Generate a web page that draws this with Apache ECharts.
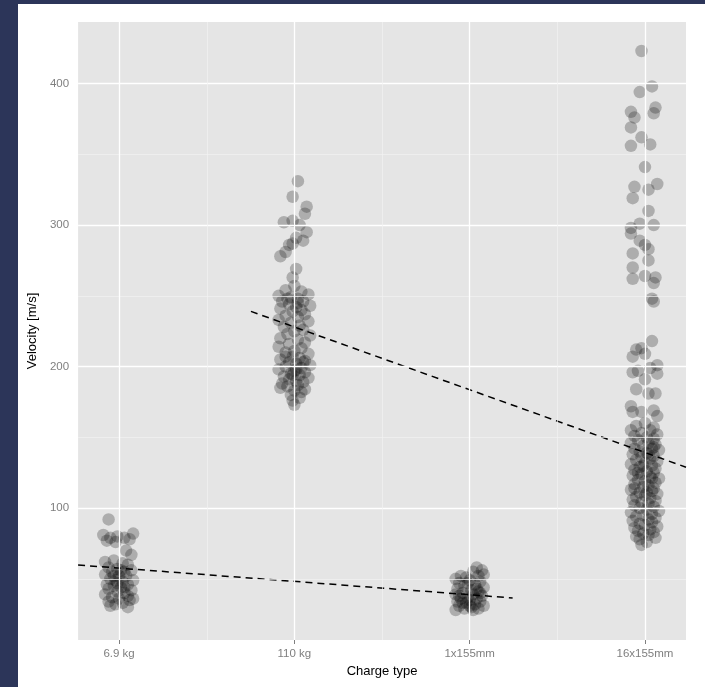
<!DOCTYPE html>
<html>
<head>
<meta charset="utf-8">
<script src="https://cdn.jsdelivr.net/npm/echarts@6/dist/echarts.min.js"></script>
<style>
  html, body { margin: 0; padding: 0; background: #2c3559; }
  #chart { position: absolute; left: 18px; top: 4px; width: 687px; height: 683px; background: #ffffff; }
</style>
</head>
<body>
<div id="chart"></div>
<script>
// categories on the x axis (placed at 0, 1, 2, 3)
const categories = ['6.9 kg', '110 kg', '1x155mm', '16x155mm'];
const yTicks = [100, 200, 300, 400];
const yMinor = [50, 150, 250, 350];
const xMinor = [0.5, 1.5, 2.5];

// jittered points: [offset from category, velocity]
const pts69 = [
  [-0.06, 92], [-0.09, 81], [-0.05, 79], [-0.01, 80], [0.03, 79], [0.08, 82], [-0.07, 77], [0.06, 78], [-0.02, 76],
  [0.04, 70], [0.07, 67], [-0.08, 62], [-0.03, 63], [0.02, 61], [0.05, 60], [-0.06, 58], [-0.01, 57], [0.07, 56],
  [-0.04, 55], [0.03, 55], [-0.08, 53], [0.00, 52], [0.04, 52], [-0.05, 50], [0.08, 49], [-0.02, 49], [0.02, 48],
  [-0.07, 46], [0.05, 46], [-0.03, 45], [0.01, 44], [-0.06, 43], [0.07, 42], [-0.01, 41], [0.03, 40], [-0.08, 39],
  [0.05, 38], [-0.04, 37], [0.00, 36], [0.06, 35], [-0.06, 34], [0.02, 33], [-0.02, 32], [0.05, 30], [-0.05, 31],
  [0.08, 36], [-0.03, 52], [0.01, 56], [-0.01, 47], [0.03, 44]
];
const pts110 = [
  [0.02, 331], [-0.01, 320], [0.07, 313], [0.06, 308], [-0.06, 302], [-0.01, 303], [0.03, 300], [0.07, 295],
  [0.01, 291], [-0.01, 287], [-0.05, 281], [-0.08, 278], [0.01, 269], [-0.01, 263], [0.05, 289], [-0.03, 286],
  [0.00, 257], [-0.05, 254], [0.04, 253], [-0.09, 250], [0.08, 251], [-0.02, 249], [0.02, 248], [-0.07, 246],
  [0.05, 246], [-0.03, 244], [0.09, 243], [0.01, 242], [-0.08, 241], [0.04, 240], [-0.01, 239], [0.06, 237],
  [-0.05, 236], [0.02, 235], [-0.09, 233], [0.08, 232], [-0.02, 231], [0.03, 229], [-0.06, 228], [0.05, 226],
  [0.00, 225], [-0.04, 223], [0.09, 222], [-0.08, 220], [0.02, 219], [0.06, 217], [-0.03, 216], [-0.09, 214],
  [0.04, 213], [0.00, 211], [-0.05, 210], [0.08, 209], [-0.01, 207], [0.03, 206], [-0.08, 205], [0.06, 204],
  [-0.03, 203], [0.01, 202], [0.09, 201], [-0.05, 200], [0.04, 199], [-0.09, 198], [0.00, 197], [0.06, 196],
  [-0.02, 195], [0.03, 194], [-0.06, 193], [0.08, 192], [-0.03, 191], [0.01, 190], [0.05, 189], [-0.07, 188],
  [0.02, 187], [-0.04, 186], [0.06, 184], [-0.08, 185], [0.00, 183], [0.04, 182], [-0.02, 180], [0.03, 178],
  [-0.01, 176], [0.00, 173], [0.05, 203], [-0.05, 207], [0.02, 245], [-0.04, 248], [0.01, 198], [-0.01, 194]
];
const pts1x155 = [
  [0.04, 58], [0.07, 56], [0.02, 55], [0.08, 53], [0.05, 52], [-0.05, 52], [-0.08, 50], [-0.02, 51], [0.00, 49],
  [0.06, 48], [-0.06, 47], [0.03, 46], [-0.03, 45], [0.08, 44], [-0.07, 43], [0.01, 42], [0.05, 41], [-0.04, 40],
  [-0.08, 39], [0.02, 39], [0.07, 38], [-0.01, 37], [-0.05, 36], [0.04, 36], [0.00, 35], [-0.07, 34], [0.06, 34],
  [-0.02, 33], [0.03, 32], [-0.06, 31], [0.08, 31], [0.01, 30], [-0.03, 29], [0.05, 29], [-0.08, 28], [0.02, 28],
  [-0.04, 33], [0.04, 43], [-0.01, 47], [0.06, 40], [-0.06, 38], [0.00, 31]
];
const pts16x155 = [
  [-0.02, 423], [0.04, 398], [-0.03, 394], [0.06, 383], [0.05, 379], [-0.08, 380], [-0.06, 376], [-0.08, 369],
  [-0.02, 362], [-0.08, 356], [0.03, 357], [0.00, 341], [-0.06, 327], [0.02, 325], [0.07, 329], [-0.07, 319],
  [0.02, 310], [-0.03, 301], [-0.08, 298], [-0.08, 294], [0.05, 300], [-0.03, 289], [0.00, 286], [0.02, 283],
  [-0.07, 280], [0.02, 275], [-0.07, 270], [-0.07, 262], [0.00, 264], [0.06, 263], [0.05, 259], [0.04, 248],
  [0.05, 246], [0.04, 218], [-0.05, 212], [-0.02, 213], [0.00, 209], [-0.07, 207], [-0.07, 196], [-0.04, 197],
  [0.03, 199], [0.07, 201], [0.07, 195], [0.00, 191], [-0.05, 184], [0.02, 181], [0.06, 181], [-0.08, 172],
  [-0.07, 168], [0.05, 169], [-0.02, 168], [0.07, 165],
  [0.00, 160], [-0.05, 158], [0.05, 157], [-0.08, 155], [0.03, 155], [-0.02, 153], [0.07, 152], [-0.06, 151],
  [0.01, 150], [0.05, 149], [-0.04, 148], [-0.08, 146], [0.02, 146], [0.06, 145], [-0.01, 144], [-0.06, 142],
  [0.04, 142], [0.08, 141], [-0.03, 140], [0.01, 139], [-0.07, 138], [0.05, 137], [-0.02, 136], [0.03, 135],
  [-0.05, 134], [0.07, 133], [0.00, 132], [-0.08, 131], [0.04, 130], [-0.03, 129], [0.06, 128], [-0.06, 127],
  [0.01, 126], [0.05, 125], [-0.02, 124], [-0.07, 123], [0.03, 122], [0.08, 121], [-0.04, 120], [0.00, 119],
  [0.06, 118], [-0.06, 117], [0.02, 116], [-0.01, 115], [0.05, 114], [-0.08, 113], [0.04, 112], [-0.03, 111],
  [0.07, 110], [0.00, 109], [-0.05, 108], [0.03, 107], [-0.07, 106], [0.06, 105], [-0.02, 104], [0.02, 103],
  [-0.06, 102], [0.05, 101], [-0.03, 100], [0.01, 99], [0.08, 98], [-0.08, 97], [0.04, 96], [-0.01, 95],
  [-0.05, 94], [0.06, 93], [0.02, 92], [-0.07, 91], [0.04, 90], [-0.03, 89], [0.00, 88], [0.07, 87],
  [-0.06, 86], [0.03, 85], [-0.04, 84], [0.05, 83], [-0.01, 82], [0.02, 81], [-0.05, 80], [0.06, 79],
  [-0.03, 78], [0.01, 76], [-0.02, 74], [0.04, 121], [-0.04, 125], [0.02, 138], [-0.01, 130], [0.05, 143],
  [-0.06, 114], [0.01, 111]
];
const groups = [pts69, pts110, pts1x155, pts16x155];

// dashed trend lines: [x, velocity] end points
const trendLow = [[-0.234, 59.8], [2.245, 36.5]];
const trendHigh = [[0.752, 239], [3.234, 128.9]];

const xMin = -0.234, xMax = 3.234;
const yMin = 6.8, yMax = 443.5;

const chart = echarts.init(document.getElementById('chart'));

const scatterData = [];
groups.forEach((g, i) => {
  g.forEach(p => scatterData.push([i + p[0], p[1]]));
});

const gridLines = [];
yTicks.forEach(v => gridLines.push({ yAxis: v, lineStyle: { color: '#ffffff', width: 1.3, type: 'solid' } }));
yMinor.forEach(v => gridLines.push({ yAxis: v, lineStyle: { color: '#f2f2f2', width: 0.7, type: 'solid' } }));
categories.forEach((c, i) => gridLines.push({ xAxis: i, lineStyle: { color: '#ffffff', width: 1.3, type: 'solid' } }));
xMinor.forEach(v => gridLines.push({ xAxis: v, lineStyle: { color: '#f2f2f2', width: 0.7, type: 'solid' } }));

const labelFont = 'Liberation Sans, Arial, sans-serif';

chart.setOption({
  animation: false,
  grid: {
    left: 60, right: 19, top: 18, bottom: 47,
    show: true, backgroundColor: '#e5e5e5', borderWidth: 0
  },
  xAxis: {
    type: 'value', min: xMin, max: xMax,
    name: 'Charge type', nameLocation: 'middle', nameGap: 22,
    nameTextStyle: { color: '#000000', fontSize: 13, fontFamily: labelFont },
    axisLine: { show: false },
    axisTick: { show: true, customValues: [0, 1, 2, 3], length: 4, lineStyle: { color: '#7f7f7f' } },
    axisLabel: {
      customValues: [0, 1, 2, 3], margin: 8,
      formatter: v => categories[Math.round(v)],
      color: '#7f7f7f', fontSize: 11.5, fontFamily: labelFont
    },
    splitLine: { show: false }
  },
  yAxis: {
    type: 'value', min: yMin, max: yMax,
    name: 'Velocity [m/s]', nameLocation: 'middle', nameGap: 34, nameRotate: 90,
    nameTextStyle: { color: '#000000', fontSize: 13, fontFamily: labelFont },
    axisLine: { show: false },
    axisTick: { show: true, customValues: yTicks, length: 4, lineStyle: { color: '#7f7f7f' } },
    axisLabel: {
      customValues: yTicks, margin: 9,
      color: '#7f7f7f', fontSize: 11.5, fontFamily: labelFont
    },
    splitLine: { show: false }
  },
  series: [
    {
      type: 'line', data: [], z: 1, silent: true,
      markLine: { silent: true, symbol: ['none', 'none'], label: { show: false }, animation: false, data: gridLines }
    },
    {
      type: 'scatter', z: 2, symbolSize: 12.5, data: scatterData,
      itemStyle: { color: 'rgba(0,0,0,0.3)', borderWidth: 0 }
    },
    {
      type: 'line', z: 3, data: trendLow, showSymbol: false, symbol: 'none',
      lineStyle: { color: '#000000', width: 1.5, type: [7, 5] }
    },
    {
      type: 'line', z: 3, data: trendHigh, showSymbol: false, symbol: 'none',
      lineStyle: { color: '#000000', width: 1.5, type: [7, 5] }
    }
  ]
});
</script>
</body>
</html>
